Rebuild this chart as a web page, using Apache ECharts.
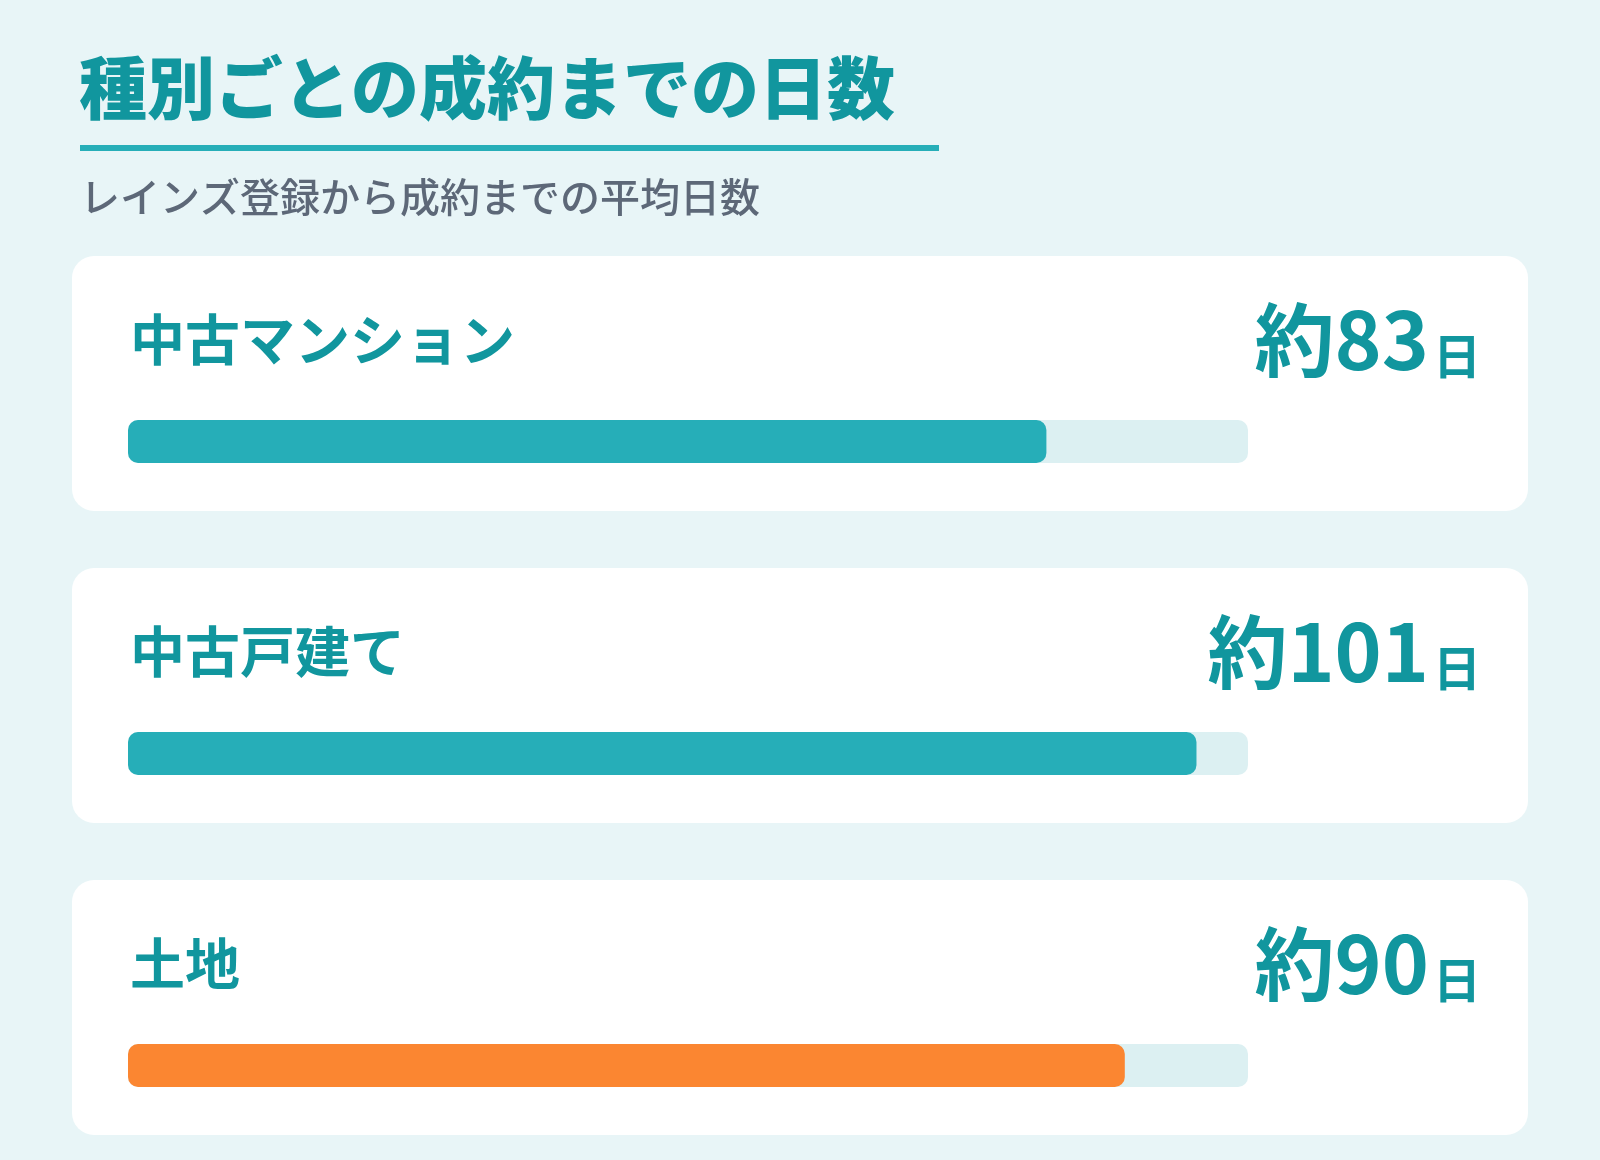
<!DOCTYPE html>
<html>
<head>
<meta charset="utf-8">
<script src="https://cdn.jsdelivr.net/npm/echarts@6/dist/echarts.min.js"></script>
<style>
  html, body { margin: 0; padding: 0; background: #e8f5f7; }
  #main { width: 1600px; height: 1160px; }
</style>
</head>
<body>
<div id="main"></div>
<script>
// 種別ごとの成約までの日数
const categories = ['中古マンション', '中古戸建て', '土地'];
const avgDays = [83, 101, 90];
// bar fill (% of track)
const fillPct = [82, 95.4, 89];
const barColors = ['#26aeb8', '#26aeb8', '#fb8631'];

const FONT = '"Noto Sans CJK JP", "Noto Sans", sans-serif';
const TEAL = '#11969e';
const STEP = 312; // card spacing

const chart = echarts.init(document.getElementById('main'));

const grids = [], xAxes = [], yAxes = [], series = [];
const graphics = [
  { type: 'text', style: { text: '種別ごとの成約までの日数', x: 79, y: 88, font: '900 68px ' + FONT, fill: TEAL, verticalAlign: 'middle' } },
  { type: 'rect', shape: { x: 80, y: 145, width: 859, height: 6 }, style: { fill: '#26aeb8' } },
  { type: 'text', style: { text: 'レインズ登録から成約までの平均日数', x: 80, y: 197, font: '500 40px ' + FONT, fill: '#5d6878', verticalAlign: 'middle' } }
];

categories.forEach((name, i) => {
  const off = i * STEP;
  // card
  graphics.push({ type: 'rect', z: 0, shape: { x: 72, y: 256 + off, width: 1456, height: 255, r: 22 }, style: { fill: '#ffffff' } });
  // label
  graphics.push({ type: 'text', z: 5, style: { text: name, x: 130, y: 339 + off, font: 'bold 55px ' + FONT, fill: TEAL, verticalAlign: 'middle' } });
  // value
  graphics.push({
    type: 'text', z: 5,
    style: {
      text: '{a|約' + avgDays[i] + '}{b|日}',
      x: 1481, y: 340 + off, align: 'right', verticalAlign: 'middle',
      rich: {
        a: { fontFamily: FONT, fontWeight: 'bold', fontSize: 80, lineHeight: 80, fill: TEAL, verticalAlign: 'bottom' },
        b: { fontFamily: FONT, fontWeight: 'bold', fontSize: 48, lineHeight: 48, fill: TEAL, verticalAlign: 'bottom', padding: [0, 0, 0, 4] }
      }
    }
  });

  grids.push({ left: 128, width: 1120, top: 420 + off, height: 43 });
  xAxes.push({ gridIndex: i, type: 'value', min: 0, max: 100, show: false });
  yAxes.push({ gridIndex: i, type: 'category', data: [name], show: false });
  series.push({
    type: 'bar',
    xAxisIndex: i,
    yAxisIndex: i,
    data: [fillPct[i]],
    barWidth: 43,
    showBackground: true,
    backgroundStyle: { color: '#dcf0f2', borderRadius: 10 },
    itemStyle: { color: barColors[i], borderRadius: 10 },
    silent: true,
    animation: false
  });
});

chart.setOption({
  backgroundColor: '#e8f5f7',
  animation: false,
  grid: grids,
  xAxis: xAxes,
  yAxis: yAxes,
  series: series,
  graphic: { elements: graphics }
});
</script>
</body>
</html>
